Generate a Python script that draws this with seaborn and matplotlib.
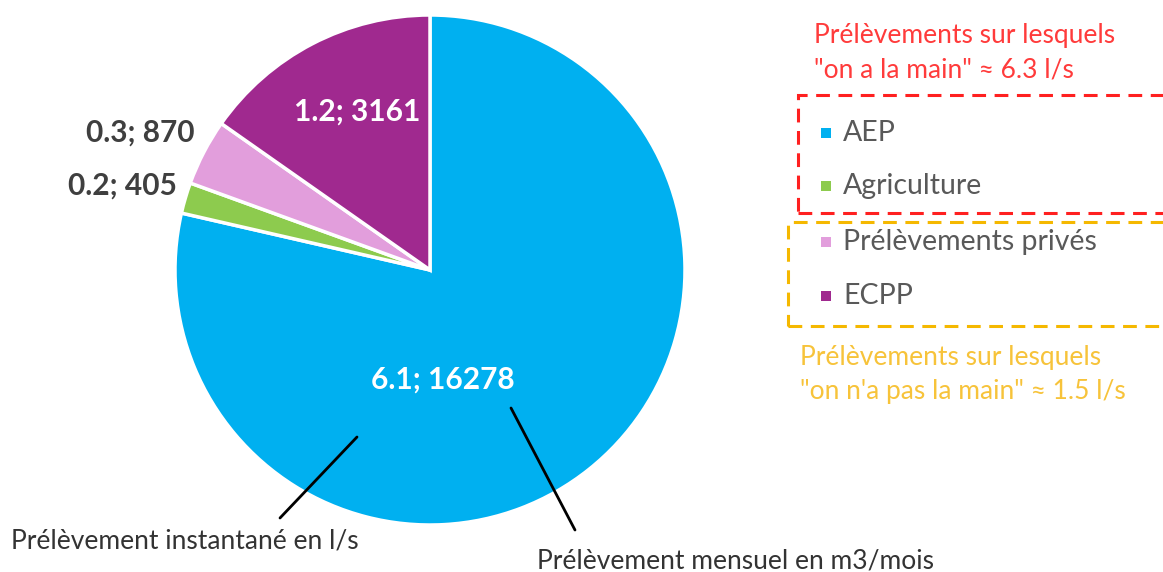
import seaborn as sns
import matplotlib.pyplot as plt
from matplotlib.patches import Rectangle

# donnees
categories = ['AEP', 'Agriculture', 'Prélèvements privés', 'ECPP']
debit_ls = [6.1, 0.2, 0.3, 1.2]
volume_m3 = [16278, 405, 870, 3161]
couleurs = ['#00B0F0', '#8DCB4E', '#E29EDC', '#A0298F']

sns.set_theme(style='white')
plt.rcParams['font.family'] = ['Lato', 'DejaVu Sans']

W, H = 1163, 572
def Y(y):
    # coordonnees en pixels depuis le haut
    return H - y

fig = plt.figure(figsize=(W / 100, H / 100), dpi=100)
ax = fig.add_axes([0, 0, 1, 1])

wedges, _ = ax.pie(volume_m3, colors=couleurs, startangle=90, counterclock=False,
                   center=(430, Y(270)), radius=255,
                   wedgeprops=dict(edgecolor='white', linewidth=2.5))
ax.set_xlim(0, W)
ax.set_ylim(0, H)
ax.set_aspect('equal')
ax.axis('off')

# etiquettes des parts
etiquettes = [f'{d}; {v}' for d, v in zip(debit_ls, volume_m3)]
pos_etiq = [(443, 380, 'white', 'center'), (177, 186, '#3F3F3F', 'right'),
            (194, 133, '#3F3F3F', 'right'), (357, 112, 'white', 'center')]
for txt, (x, y, c, ha) in zip(etiquettes, pos_etiq):
    ax.text(x, Y(y), txt, color=c, fontsize=21.5, fontweight='bold', ha=ha, va='center')

# legende
y_leg = [133, 186, 242, 296]
for lab, col, y in zip(categories, couleurs, y_leg):
    ax.scatter(826, Y(y), marker='s', s=60, color=col, edgecolor='none')
    ax.text(843, Y(y), lab, color='#595959', fontsize=20.5, ha='left', va='center')

# encadres en pointilles
ax.add_patch(Rectangle((798, Y(213)), 420, 118, fill=False, edgecolor='#FF2020',
                       linewidth=2.2, linestyle=(0, (4.5, 2.8)), clip_on=True))
ax.add_patch(Rectangle((788, Y(326)), 420, 104, fill=False, edgecolor='#F5B800',
                       linewidth=2.2, linestyle=(0, (4.5, 2.8)), clip_on=True))

ax.text(814, Y(35), 'Prélèvements sur lesquels', color='#FF3B3B', fontsize=19,
        ha='left', va='center')
ax.text(814, Y(70), '"on a la main" ≈ 6.3 l/s', color='#FF3B3B', fontsize=19,
        ha='left', va='center')
ax.text(800, Y(357), 'Prélèvements sur lesquels', color='#F7C33A', fontsize=19,
        ha='left', va='center')
ax.text(800, Y(392), '"on n\'a pas la main" ≈ 1.5 l/s', color='#F7C33A', fontsize=19,
        ha='left', va='center')

# renvois vers l'etiquette centrale
ax.plot([280, 357], [Y(518), Y(437)], color='black', linewidth=2)
ax.plot([511, 575], [Y(408), Y(530)], color='black', linewidth=2)
ax.text(11, Y(549), 'Prélèvement instantané en l/s', color='#333333', fontsize=19,
        ha='left', va='baseline')
ax.text(537, Y(568), 'Prélèvement mensuel en m3/mois', color='#333333', fontsize=19,
        ha='left', va='baseline')

fig.savefig('out.png', dpi=100)
